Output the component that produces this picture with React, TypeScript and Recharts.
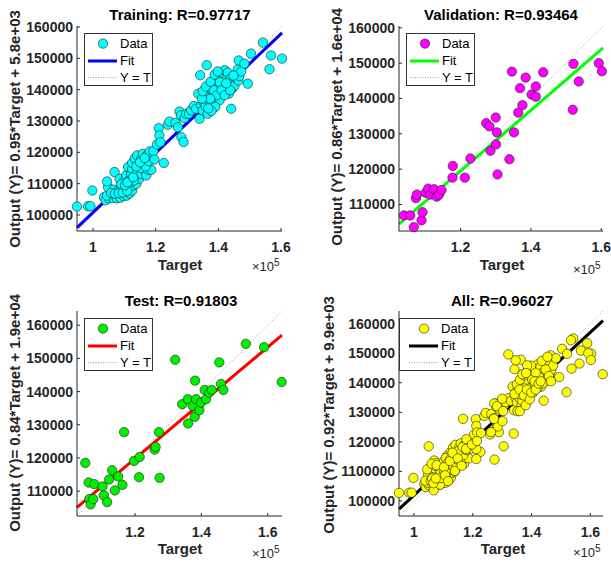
import React from 'react';
import { ScatterChart, Scatter, XAxis, YAxis, ReferenceLine } from 'recharts';

// [target, output] pairs
const trainingPoints: number[][] = [
  [94900, 102700], [98400, 102800], [99200, 102800], [99800, 107800],
  [103500, 105700], [104000, 104700], [105100, 105300], [106400, 105400], [107600, 105300],
  [108700, 105500], [109800, 106000], [110800, 106200], [111700, 106900], [112500, 107800],
  [104500, 106200], [104800, 108900], [104500, 110700], [106600, 108100], [108000, 107800],
  [109000, 108300], [110100, 108100], [111500, 108900], [112700, 109400], [113800, 109900],
  [106900, 113700], [108500, 111500], [109800, 110700], [110600, 112600], [111400, 111000],
  [112200, 113100], [111200, 115300], [112500, 114700], [113300, 112400], [114000, 113700],
  [114700, 111500], [115400, 113100], [116100, 114700], [117000, 112600], [117500, 114500],
  [118600, 114400], [114900, 115800], [114000, 116800], [116100, 116300], [117500, 116800],
  [112500, 116600], [113300, 118100], [114100, 119000], [115400, 118100], [115900, 119500],
  [117000, 118800], [118100, 120300], [118600, 117900],
  [105800, 107000], [107000, 106800], [108200, 107000], [109500, 107200], [110900, 107700],
  [112000, 110500], [113000, 111000], [109000, 109800], [110200, 109500], [111000, 110400],
  [112800, 112000], [115200, 115000], [116800, 115500], [117800, 117200], [113800, 115500],
  [115000, 116800], [116500, 118200],
  [119300, 120400], [119600, 117700], [120400, 122500], [122600, 116600], [121000, 127700],
  [121200, 125400], [121500, 123200], [123900, 128800], [124400, 129800], [126300, 129400],
  [127100, 128000], [127600, 133000], [128200, 124800], [128900, 123300], [128100, 131800],
  [129200, 130900], [129700, 132300], [130600, 132300], [131300, 133400], [132200, 134800],
  [132900, 133900],
  [133600, 138700], [134000, 130700], [134200, 144600], [134500, 135000], [135000, 133400],
  [135300, 136000], [135900, 134700], [136300, 147800], [136600, 132300], [136100, 137600],
  [137000, 136600], [137200, 139200], [137700, 140800], [138000, 135000], [138200, 138200],
  [138800, 141900], [139100, 137100], [139300, 143500], [139800, 139800], [140100, 144800],
  [140400, 136600], [140600, 141200], [140900, 142900], [141200, 145400], [141400, 138700],
  [141600, 141600], [142000, 146200], [142300, 140300], [142700, 143500], [143000, 145400],
  [143300, 138700], [143500, 141600], [143900, 143500], [144100, 133900], [144400, 140300],
  [144600, 142400], [145100, 141200], [145500, 143700], [145900, 145100], [146200, 146500],
  [146400, 142900], [146500, 149300], [146700, 144300], [147300, 145800], [148300, 148300],
  [149400, 141900], [150400, 151500], [154200, 155000], [156300, 146500], [156800, 150900],
  [160300, 149900],
  [135600, 138700], [136600, 140500], [138500, 139800], [139500, 138200], [140400, 142400],
  [137400, 137100], [134800, 137100], [135000, 139500], [136000, 141000], [137500, 142500],
  [138800, 144800], [139800, 145800], [141000, 139800], [142000, 138200], [143800, 139800],
  [144800, 144500], [142500, 142000], [139000, 134500], [137800, 133200], [136800, 134000],
];

const validationPoints: number[][] = [
  [103900, 106900], [105700, 106900], [106700, 103600], [107300, 111800], [107600, 112800],
  [108900, 105500], [109200, 107800], [110100, 113300], [110800, 114500], [111400, 112800],
  [112500, 114300], [113200, 112200], [113900, 112800], [114600, 114100], [117800, 120900],
  [117700, 117600], [121200, 117600], [122800, 123000], [127300, 133000], [128200, 132100],
  [128500, 125200], [130000, 134600], [130100, 127000], [130300, 130400], [130500, 118500],
  [133900, 122800], [134600, 147600], [135200, 130400], [136400, 136000], [136900, 142900],
  [137600, 138100], [138500, 145900], [140200, 141100], [141400, 143400], [141400, 140500],
  [143500, 147400], [151900, 136800], [152100, 149800], [153600, 144800], [159300, 150000],
  [160200, 147700],
];

const testPoints: number[][] = [
  [105000, 118500], [106000, 112600], [106200, 107600], [106600, 106000], [107400, 107600],
  [107700, 112100], [110200, 111400], [110600, 108700], [111600, 106700], [112200, 113500],
  [113100, 116300], [113900, 110200], [114900, 114400], [116200, 111900], [116700, 127800],
  [119700, 119100], [121400, 120300], [121200, 114200], [125900, 122500], [126200, 123300],
  [127200, 127800], [127400, 114000], [132100, 149600], [134200, 136200], [135900, 137700],
  [136000, 130400], [137400, 135700], [138000, 132400], [138100, 143300], [138400, 137700],
  [139400, 134400], [139900, 136700], [141000, 140500], [141400, 137700], [142400, 139700],
  [143100, 140500], [145400, 148800], [145900, 142300], [146600, 140500], [153400, 154400],
  [158900, 153400], [164200, 142900],
];

const allPoints = [...trainingPoints, ...validationPoints, ...testPoints];

const xTicksWide = [100000, 120000, 140000, 160000];
const xTicksNarrow = [120000, 140000, 160000];
const yTicksWide = [100000, 110000, 120000, 130000, 140000, 150000, 160000];
const yTicksNarrow = [110000, 120000, 130000, 140000, 150000, 160000];

const FONT = '"Liberation Sans", Arial, Helvetica, sans-serif';
const INK = '#262626';
const R = 4.7;

const tickStyle = { fill: INK, fontSize: 14, fontWeight: 700, fontFamily: FONT };

const fmtX = (v: number) => String(v / 100000);

type Box = { x: number; y: number; w: number; h: number };

type PanelProps = {
  left: number;
  top: number;
  width: number;
  height: number;
  plot: Box;
  domain: [number, number];
  points: number[][];
  color: string;
  fitColor: string;
  slope: number;
  intercept: number;
  xTicks: number[];
  yTicks: number[];
  fmtY?: (v: number) => string;
  title: string;
  titlePos: [number, number];
  yLabel: string;
  yLabelPos: [number, number];
  xLabelPos: [number, number];
  expPos: [number, number];
  legend: Box;
  legendPad: number;
};

const Legend = ({ box, pad, color, fitColor }: { box: Box; pad: number; color: string; fitColor: string }) => {
  const rows = [10.6, 28, 44.6];
  const txt: React.CSSProperties = {
    position: 'absolute', left: pad + 35, fontSize: 13, fontFamily: FONT, color: '#000',
    lineHeight: '14px', transform: 'translateY(-50%)', whiteSpace: 'nowrap',
  };
  return (
    <div style={{
      position: 'absolute', left: box.x, top: box.y, width: box.w, height: box.h,
      border: '1px solid #333', background: '#fff', boxSizing: 'border-box',
    }}>
      <svg width={box.w} height={box.h} style={{ position: 'absolute', left: -1, top: -1 }}>
        <circle cx={pad + 19} cy={rows[0]} r={R} fill={color} stroke="#222" strokeWidth={0.6} />
        <line x1={pad + 4} x2={pad + 33} y1={rows[1]} y2={rows[1]} stroke={fitColor} strokeWidth={3} />
        <line x1={pad + 4} x2={pad + 33} y1={rows[2]} y2={rows[2]} stroke="#999" strokeWidth={1} strokeDasharray="1 1.5" />
      </svg>
      <div style={{ ...txt, top: rows[0] - 1 }}>Data</div>
      <div style={{ ...txt, top: rows[1] - 1 }}>Fit</div>
      <div style={{ ...txt, top: rows[2] - 1 }}>Y = T</div>
    </div>
  );
};

const Panel = (p: PanelProps) => {
  const [d0, d1] = p.domain;
  const data = p.points.map(([t, y]) => ({ t, y }));
  const xAxisH = 30;
  const margin = {
    top: p.plot.y,
    left: 0,
    right: p.width - p.plot.x - p.plot.w,
    bottom: p.height - p.plot.y - p.plot.h - xAxisH,
  };
  const fitSeg = [
    { x: d0, y: p.slope * d0 + p.intercept },
    { x: d1, y: p.slope * d1 + p.intercept },
  ];
  const idSeg = [{ x: d0, y: d0 }, { x: d1, y: d1 }];
  const dot = (s: any) => (
    <circle cx={s.cx} cy={s.cy} r={R} fill={p.color} stroke="#222" strokeWidth={0.6} />
  );
  const label: React.CSSProperties = {
    position: 'absolute', whiteSpace: 'nowrap', fontFamily: FONT, fontWeight: 700,
    transform: 'translate(-50%, -50%)', lineHeight: '16px',
  };
  return (
    <div style={{ position: 'absolute', left: p.left, top: p.top, width: p.width, height: p.height }}>
      <ScatterChart width={p.width} height={p.height} margin={margin}>
        <XAxis
          type="number" dataKey="t" domain={[d0, d1]} ticks={p.xTicks} interval={0}
          tickFormatter={fmtX} height={xAxisH} tickSize={-3} tickMargin={14}
          stroke={INK} tick={tickStyle}
        />
        <YAxis
          type="number" dataKey="y" domain={[d0, d1]} ticks={p.yTicks} interval={0}
          tickFormatter={p.fmtY ?? ((v: number) => String(v))} width={p.plot.x}
          tickSize={-3} tickMargin={7} stroke={INK} tick={tickStyle}
        />
        <XAxis
          xAxisId="top" orientation="top" type="number" domain={[d0, d1]} ticks={p.xTicks}
          interval={0} height={0} tickSize={-3} tickFormatter={() => ''} stroke={INK}
        />
        <YAxis
          yAxisId="right" orientation="right" type="number" domain={[d0, d1]} ticks={p.yTicks}
          interval={0} width={0} tickSize={-3} tickFormatter={() => ''} stroke={INK}
        />
        <ReferenceLine segment={idSeg} ifOverflow="visible" stroke="#aaa" strokeWidth={1} strokeDasharray="1 2" />
        <ReferenceLine segment={fitSeg} ifOverflow="visible" stroke={p.fitColor} strokeWidth={3} />
        <Scatter data={data} shape={dot} isAnimationActive={false} />
      </ScatterChart>
      <div style={{ ...label, left: p.titlePos[0], top: p.titlePos[1], fontSize: 15, color: '#000' }}>{p.title}</div>
      <div style={{ ...label, left: p.xLabelPos[0], top: p.xLabelPos[1], fontSize: 15, color: INK }}>Target</div>
      <div style={{
        ...label, left: p.yLabelPos[0], top: p.yLabelPos[1], fontSize: 15, color: INK,
        transform: 'translate(-50%, -50%) rotate(-90deg)',
      }}>{p.yLabel}</div>
      <div style={{
        position: 'absolute', left: p.expPos[0], top: p.expPos[1] - 8, fontFamily: FONT,
        fontSize: 13, color: INK, whiteSpace: 'nowrap', lineHeight: '16px',
      }}>
        ×10<span style={{ fontSize: 10, position: 'relative', top: -5 }}>5</span>
      </div>
      <Legend box={p.legend} pad={p.legendPad} color={p.color} fitColor={p.fitColor} />
    </div>
  );
};

export default function App() {
  return (
    <div style={{ position: 'absolute', left: 0, top: 0, width: 611, height: 562, background: '#fff', overflow: 'hidden' }}>
      <Panel
        left={0} top={0} width={305} height={281}
        plot={{ x: 77, y: 26, w: 205, h: 205 }} domain={[94900, 160300]}
        points={trainingPoints} color="#00ffff" fitColor="#0000ff" slope={0.95} intercept={5800}
        xTicks={xTicksWide} yTicks={yTicksWide}
        title="Training: R=0.97717" titlePos={[180, 15]}
        yLabel="Output (Y)= 0.95*Target + 5.8e+03" yLabelPos={[15, 129]}
        xLabelPos={[180, 265]} expPos={[252, 267]}
        legend={{ x: 84, y: 33, w: 69, h: 53 }} legendPad={0}
      />
      <Panel
        left={305} top={0} width={306} height={281}
        plot={{ x: 94, y: 26, w: 204, h: 205 }} domain={[102500, 160500]}
        points={validationPoints} color="#ff00ff" fitColor="#00ff00" slope={0.86} intercept={16300}
        xTicks={xTicksNarrow} yTicks={yTicksNarrow}
        title="Validation: R=0.93464" titlePos={[196, 15]}
        yLabel="Output (Y)= 0.86*Target + 1.6e+04" yLabelPos={[32, 127]}
        xLabelPos={[197, 265]} expPos={[268, 270]}
        legend={{ x: 101, y: 33, w: 69, h: 53 }} legendPad={0}
      />
      <Panel
        left={0} top={281} width={305} height={281}
        plot={{ x: 77, y: 30, w: 205, h: 205 }} domain={[102500, 164300]}
        points={testPoints} color="#00ee00" fitColor="#ff0000" slope={0.84} intercept={19000}
        xTicks={xTicksNarrow} yTicks={yTicksNarrow}
        title="Test: R=0.91803" titlePos={[181, 20]}
        yLabel="Output (Y)= 0.84*Target + 1.9e+04" yLabelPos={[15, 132]}
        xLabelPos={[180, 268]} expPos={[252, 273]}
        legend={{ x: 84, y: 37, w: 69, h: 53 }} legendPad={0}
      />
      <Panel
        left={305} top={281} width={306} height={281}
        plot={{ x: 94, y: 30, w: 204, h: 205 }} domain={[94900, 164300]}
        points={allPoints} color="#ffff00" fitColor="#000000" slope={0.92} intercept={9900}
        xTicks={xTicksWide} yTicks={yTicksWide}
        fmtY={(v: number) => (v === 110000 ? '1100000' : String(v))}
        title="All: R=0.96027" titlePos={[197, 20]}
        yLabel="Output (Y)= 0.92*Target + 9.9e+03" yLabelPos={[24, 134]}
        xLabelPos={[198, 268]} expPos={[268, 272]}
        legend={{ x: 94, y: 37, w: 76, h: 53 }} legendPad={6}
      />
    </div>
  );
}
